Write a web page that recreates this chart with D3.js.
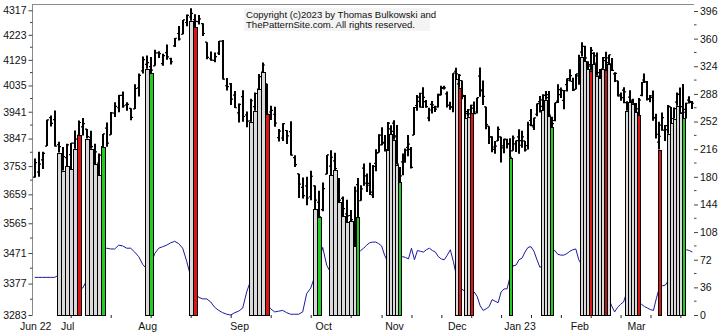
<!DOCTYPE html>
<html>
<head>
<meta charset="utf-8">
<script src="https://cdn.jsdelivr.net/npm/d3@7"></script>
<style>
  body { margin: 0; background: #fff; }
  svg { display: block; }
  text { font-family: "Liberation Sans", Arial, sans-serif; }
</style>
</head>
<body>
<svg id="chart" width="725" height="334"></svg>
<script>
// Daily S&P 500 bars, 21 Jun 2022 to 28 Mar 2023 (one entry per trading day)
const opens = [
  3716,3733,3774,3821,3920,3913,3826,3786,3782,3792,3831,3858,3888,3880,3851,3763,3763,3819,3883,3860,
  3936,3955,3999,3965,3953,3951,4026,4088,4112,4104,4107,4155,4115,4156,4133,4181,4228,4225,4270,4291,
  4281,4273,4266,4195,4133,4127,4154,4199,4034,4041,4000,3937,3995,3930,3909,3959,4022,4084,4041,3940,
  3932,3850,3849,3875,3871,3782,3727,3682,3687,3651,3687,3633,3609,3726,3753,3771,3706,3646,3595,3590,
  3521,3691,3638,3746,3696,3689,3657,3762,3799,3825,3834,3808,3881,3901,3853,3733,3767,3780,3817,3810,
  3859,3963,3978,4007,3977,3919,3967,3956,3958,4000,4024,4005,3964,3957,4087,4041,4053,3996,3934,3948,
  3954,3940,4069,4015,3958,3890,3853,3810,3839,3853,3815,3843,3829,3805,3829,3853,3840,3839,3823,3910,
  3888,3932,3977,3960,3999,4002,3912,3910,3979,4002,3981,4038,4054,4050,4021,4070,4158,4137,4119,4106,
  4153,4144,4069,4096,4126,4119,4114,4077,4052,4001,4018,3973,3993,3978,3964,3939,3999,4055,4049,3987,
  3998,3920,3835,3894,3876,3878,3958,3917,3975,4003,3959,3939,3982,3974
];
const highs = [
  3779,3802,3802,3913,3928,3945,3836,3818,3829,3832,3875,3910,3919,3880,3874,3829,3796,3863,3903,3940,
  3975,4001,4013,3975,3953,4039,4079,4141,4145,4140,4167,4161,4152,4186,4137,4211,4257,4280,4301,4325,
  4302,4299,4267,4195,4160,4156,4200,4203,4062,4044,4015,3970,4018,3942,3987,4010,4077,4119,4041,3962,
  3959,3880,3900,3876,3907,3790,3727,3715,3717,3737,3688,3671,3698,3791,3807,3798,3713,3652,3641,3608,
  3685,3713,3689,3762,3728,3764,3757,3810,3862,3886,3859,3905,3893,3911,3894,3750,3796,3813,3859,3818,
  3958,4001,4009,4029,3983,3955,3979,3962,4005,4034,4034,4013,3976,4080,4100,4077,4053,4001,3951,3966,
  3977,3991,4101,4053,3959,3890,3855,3839,3889,3853,3846,3846,3848,3858,3840,3879,3874,3839,3906,3951,
  3920,3970,3997,4003,4015,4015,3923,3973,4039,4028,4019,4060,4094,4063,4077,4148,4195,4182,4124,4177,
  4157,4156,4095,4140,4159,4148,4136,4083,4052,4010,4029,3978,4018,3987,3972,3990,4048,4079,4051,4001,
  4017,3934,3906,3938,3894,3965,3958,3956,4010,4028,4040,3973,3996,3979
];
const lows = [
  3715,3717,3743,3821,3889,3820,3799,3738,3752,3742,3812,3858,3858,3847,3812,3759,3722,3817,3819,3860,
  3922,3939,3955,3944,3911,3951,3995,4079,4096,4080,4107,4136,4107,4129,4112,4177,4201,4225,4256,4277,
  4253,4262,4218,4131,4126,4120,4147,4057,4017,3965,3954,3903,3906,3886,3906,3944,4022,4084,3932,3912,
  3888,3837,3839,3828,3789,3750,3647,3645,3623,3640,3611,3584,3604,3726,3723,3739,3633,3588,3569,3571,
  3492,3584,3638,3687,3667,3657,3647,3736,3799,3824,3803,3808,3863,3843,3758,3699,3722,3764,3786,3745,
  3859,3944,3956,3954,3955,3907,3935,3940,3956,4000,4020,3956,3948,3939,4058,4027,3985,3919,3923,3935,
  3933,3935,3994,3965,3879,3828,3800,3795,3839,3765,3797,3813,3781,3805,3801,3795,3815,3803,3809,3890,
  3877,3925,3938,3947,3984,3926,3886,3907,3972,3990,3950,4013,4049,4015,4021,4038,4141,4124,4094,4089,
  4112,4070,4061,4096,4090,4113,4088,4048,3995,3980,3971,3944,3974,3969,3939,3929,3996,4044,3981,3975,
  3909,3847,3809,3874,3839,3864,3901,3917,3962,3936,3919,3917,3970,3951
];
const closes = [
  3765,3760,3796,3912,3900,3821,3819,3785,3825,3831,3845,3903,3899,3854,3819,3801,3790,3863,3831,3937,
  3960,3999,3962,3967,3921,4024,4072,4130,4119,4091,4155,4152,4145,4140,4122,4210,4207,4280,4297,4305,
  4274,4284,4228,4138,4128,4141,4199,4058,4031,3986,3955,3967,3924,3908,3980,4006,4067,4110,3932,3946,
  3901,3873,3899,3856,3790,3758,3693,3655,3647,3719,3640,3586,3678,3791,3783,3745,3640,3612,3589,3577,
  3670,3583,3677,3720,3695,3666,3752,3797,3859,3831,3807,3901,3872,3856,3760,3720,3771,3807,3828,3749,
  3956,3993,3957,3992,3959,3947,3965,3950,4003,4027,4026,3964,3958,4080,4077,4072,3999,3941,3933,3964,
  3934,3991,4019,3996,3896,3852,3818,3821,3879,3822,3845,3829,3783,3849,3840,3824,3853,3808,3895,3893,
  3919,3970,3983,3999,3991,3929,3899,3973,4020,4017,4016,4060,4071,4018,4077,4120,4179,4136,4111,4164,
  4117,4082,4090,4137,4136,4148,4090,4079,3997,3991,4012,3970,3982,3970,3951,3982,4046,4048,3986,3992,
  3919,3862,3855,3920,3892,3960,3917,3952,4003,3937,3949,3971,3978,3971
];

// Indicator line plotted against the right-hand scale
const indicator = [
  49,49,49,49,49,49,52,50,46,42,40,37,35,45,58,70,80,86,87,86,
  86,91,90,87,87,82,76,66,60,65,80,87,89,91,94,96,93,87,70,50,
  30,23,21,21,17,10,6,3,1,0,3,5,9,30,45,50,45,30,15,8,
  4,5,6,3,1,1,1,4,28,35,50,70,88,65,55,50,55,60,65,70,
  75,80,84,87,91,94,95,95,93,90,78,70,68,72,74,76,76,75,73,87,
  72,84,83,82,85,87,84,82,76,73,72,78,85,70,52,40,33,31,30,30,
  30,24,12,6,8,11,20,18,16,30,34,34,50,64,65,72,74,82,88,89,
  83,72,62,65,72,80,85,84,79,78,78,80,83,85,86,72,65,60,55,50,
  45,40,35,30,25,22,12,4,10,14,17,29,25,20,18,15,14,11,9,7,
  6,22,36,38,39,45,55,65,75,80,84,85,84,82
];

// Highlighted sessions: bar index and colour class
const markedBars  = [6,7,8,9,10,11, 13,14,15,16,17, 28,29, 39,40, 54,55,56,57,58, 70,71,
                     74,75,76,77,78,79,80,81, 91,92,93,94,95, 114,115,117,118,119, 132,
                     143,144,145,146, 156,157,158,159,160,161,162,163,164,165,
                     171,172,173,174,175, 182, 185,186,187,188,189,190];
const markedKinds = ["g","g","g","g","g","r", "g","g","g","g","v", "g","v", "g","r", "g","g","g","g","r", "g","v",
                     "g","g","g","g","g","g","g","v", "g","g","g","g","v", "g","r","g","g","r", "v",
                     "g","g","g","v", "g","g","g","r","g","g","g","g","d","g",
                     "g","g","g","g","r", "r", "g","g","g","g","g","v"];

const priceTicks = [3283,3377,3471,3565,3659,3753,3847,3941,4035,4129,4223,4317];
const countTicks = [0,36,72,108,144,180,216,252,288,324,360,396];
const monthNames = ["Jun 22","Jul","Aug","Sep","Oct","Nov","Dec","Jan 23","Feb","Mar"];
const monthBars  = [0,8,28,51,72,93,114,135,155,174];
const gridBars   = d3.range(9, 193, 10);

const fills = { g: "#dadada", r: "#dd1515", d: "#b01a1a", v: "#22cc22" };

const svg = d3.select("#chart");
const plotLeft = 32.5, plotRight = 694, plotTop = 4, plotBottom = 315;

const x = d3.scaleLinear().domain([0, 80, opens.length - 1]).range([34.7, 354.7, 692.3]);
const yPrice = d3.scaleLog().domain([3283, 4317]).range([plotBottom, 10.3]);
const yCount = d3.scaleLinear().domain([0, 396]).range([plotBottom, 11]);
const edge = j => Math.round(x(j - 0.5)) + 0.5;

// frame: top edge and left axis line
svg.append("line").attr("x1", plotLeft).attr("x2", plotRight).attr("y1", plotTop + 0.5).attr("y2", plotTop + 0.5)
  .attr("stroke", "#8a8a8a");
svg.append("line").attr("x1", plotLeft).attr("x2", plotLeft).attr("y1", plotTop).attr("y2", plotBottom)
  .attr("stroke", "#8a8a8a");

// copyright notice
const note = svg.append("g").attr("transform", "translate(246,0)");
note.append("rect").attr("x", -2).attr("y", 8).attr("width", 186).attr("height", 23).attr("fill", "#f4f4f4");
note.append("text").attr("x", 0).attr("y", 17.5).attr("font-size", 9.6).attr("fill", "#111")
  .text("Copyright (c)2023 by Thomas Bulkowski and");
note.append("text").attr("x", 0).attr("y", 28).attr("font-size", 9.6).attr("fill", "#111")
  .text("ThePatternSite.com. All rights reserved.");

// indicator line (right scale)
svg.append("path").datum(indicator)
  .attr("fill", "none").attr("stroke", "#1a1aa0").attr("stroke-width", 1)
  .attr("d", d3.line().x((d, j) => x(j)).y(d => yCount(d)));

// highlighted columns, from the floor up to the session low
svg.append("g").attr("shape-rendering", "crispEdges")
  .selectAll("rect").data(markedBars).join("rect")
  .attr("x", (j) => edge(j))
  .attr("width", (j) => Math.max(2, edge(j + 1) - edge(j)))
  .attr("y", (j) => Math.round(yPrice(lows[j])) + 0.5)
  .attr("height", (j) => plotBottom - Math.round(yPrice(lows[j])) - 0.5)
  .attr("fill", (j, k) => fills[markedKinds[k]])
  .attr("stroke", "#000").attr("stroke-width", 1);

// OHLC bars
const bars = svg.append("g").attr("stroke", "#000");
opens.forEach((o, j) => {
  const cx = Math.round(x(j));
  bars.append("line").attr("x1", cx).attr("x2", cx)
    .attr("y1", yPrice(highs[j])).attr("y2", yPrice(lows[j])).attr("stroke-width", 2);
  bars.append("line").attr("x1", cx - 2).attr("x2", cx)
    .attr("y1", yPrice(o)).attr("y2", yPrice(o)).attr("stroke-width", 1.2);
  bars.append("line").attr("x1", cx).attr("x2", cx + 2)
    .attr("y1", yPrice(closes[j])).attr("y2", yPrice(closes[j])).attr("stroke-width", 1.2);
});

// left price axis
const leftAxis = svg.append("g").attr("transform", `translate(${plotLeft},0)`)
  .call(d3.axisLeft(yPrice).tickValues(priceTicks).tickFormat(d3.format("d")).tickSize(4).tickPadding(2));
leftAxis.select(".domain").remove();
leftAxis.selectAll("line").attr("stroke", "#444");
leftAxis.selectAll("text").attr("font-size", 10.5).attr("fill", "#111")
  .attr("font-family", "'Liberation Sans', Arial, sans-serif");
// minor price ticks halfway between labels
const minorPrice = priceTicks.slice(1).map((v, k) => (v + priceTicks[k]) / 2);
svg.append("g").selectAll("line").data(minorPrice).join("line")
  .attr("x1", plotLeft - 2.5).attr("x2", plotLeft).attr("y1", d => yPrice(d)).attr("y2", d => yPrice(d))
  .attr("stroke", "#444");

// right count axis
const rightAxis = svg.append("g").attr("transform", `translate(${plotRight},0)`)
  .call(d3.axisRight(yCount).tickValues(countTicks).tickSize(4).tickPadding(2));
rightAxis.select(".domain").remove();
rightAxis.selectAll("line").attr("stroke", "#444");
rightAxis.selectAll("text").attr("font-size", 10.5).attr("fill", "#111")
  .attr("font-family", "'Liberation Sans', Arial, sans-serif");
const minorCount = countTicks.slice(1).map((v, k) => (v + countTicks[k]) / 2);
svg.append("g").selectAll("line").data(minorCount).join("line")
  .attr("x1", plotRight).attr("x2", plotRight + 2.5).attr("y1", d => yCount(d)).attr("y2", d => yCount(d))
  .attr("stroke", "#444");

// bottom ticks every ten sessions and month labels
const bottomAxis = svg.append("g").attr("transform", `translate(0,${plotBottom})`)
  .call(d3.axisBottom(x).tickValues(gridBars).tickSize(3).tickFormat(""));
bottomAxis.select(".domain").remove();
bottomAxis.selectAll("line").attr("stroke", "#222");
svg.append("g").selectAll("text").data(monthBars).join("text")
  .attr("x", j => x(j) + 1).attr("y", 329.5)
  .attr("text-anchor", "middle").attr("font-size", 10.5).attr("fill", "#111")
  .text((j, k) => monthNames[k]);
</script>
</body>
</html>
